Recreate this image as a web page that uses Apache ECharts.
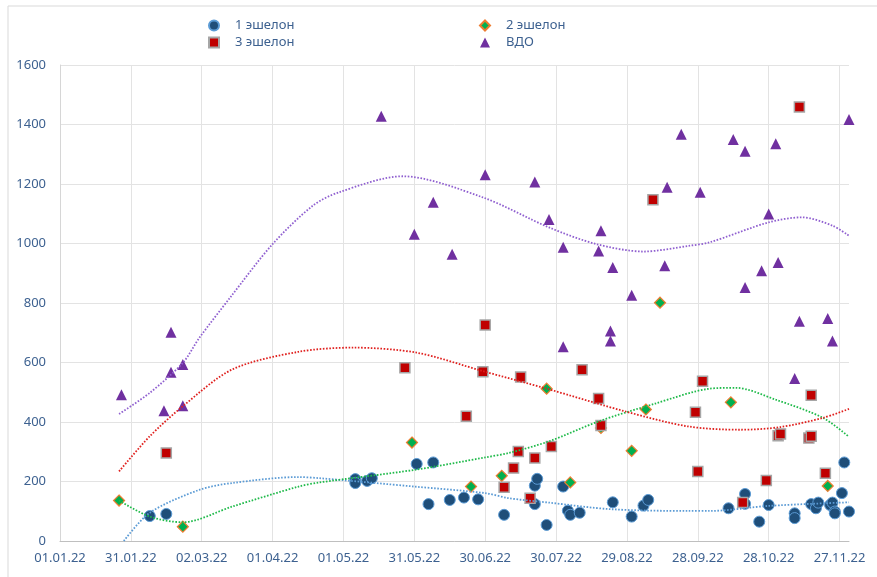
<!DOCTYPE html>
<html>
<head>
<meta charset="utf-8">
<script src="https://cdn.jsdelivr.net/npm/echarts@6/dist/echarts.min.js"></script>
<style>
html,body{margin:0;padding:0;background:#fff;}
#chart{width:877px;height:577px;}
</style>
</head>
<body>
<div id="chart"></div>
<script>
// ---- data ----
const ech1Dates = ['2022-02-08','2022-02-15','2022-05-06','2022-05-06','2022-05-11','2022-05-13','2022-06-01','2022-06-08','2022-06-06','2022-06-15','2022-06-21','2022-06-27','2022-07-08','2022-07-21','2022-07-21','2022-07-22','2022-07-26','2022-08-02','2022-08-04','2022-08-05','2022-08-09','2022-08-23','2022-08-31','2022-09-05','2022-09-07','2022-10-11','2022-10-18','2022-10-18','2022-10-24','2022-10-28','2022-11-08','2022-11-08','2022-11-15','2022-11-17','2022-11-18','2022-11-23','2022-11-24','2022-11-25','2022-11-25','2022-11-28','2022-11-29','2022-12-01'];
const ech1Values = [84,91,208,195,202,211,259,264,124,138,146,140,88,124,186,209,54,183,102,88,95,130,82,119,138,110,158,125,65,121,93,77,124,110,129,121,129,99,93,161,264,99];

const ech2Dates = ['2022-01-26','2022-02-22','2022-05-30','2022-06-24','2022-07-07','2022-07-26','2022-08-05','2022-08-18','2022-08-31','2022-09-06','2022-09-12','2022-10-12','2022-11-22'];
const ech2Values = [136,48,331,183,219,512,197,380,303,442,801,466,185];

const ech3Dates = ['2022-02-15','2022-05-27','2022-06-22','2022-06-29','2022-06-30','2022-07-08','2022-07-12','2022-07-14','2022-07-15','2022-07-19','2022-07-21','2022-07-28','2022-08-10','2022-08-17','2022-08-18','2022-09-09','2022-09-27','2022-09-28','2022-09-30','2022-10-17','2022-10-27','2022-11-01','2022-11-02','2022-11-10','2022-11-14','2022-11-15','2022-11-15','2022-11-21'];
const ech3Values = [296,582,419,569,726,181,245,301,551,144,279,318,576,479,388,1147,433,234,537,129,203,354,360,1459,346,352,490,228];

const vdoDates = ['2022-01-27','2022-02-14','2022-02-17','2022-02-17','2022-02-22','2022-02-22','2022-05-17','2022-05-31','2022-06-08','2022-06-16','2022-06-30','2022-07-21','2022-07-27','2022-08-02','2022-08-02','2022-08-17','2022-08-18','2022-08-22','2022-08-22','2022-08-23','2022-08-31','2022-09-14','2022-09-15','2022-09-21','2022-09-29','2022-10-13','2022-10-18','2022-10-18','2022-10-25','2022-10-28','2022-10-31','2022-11-01','2022-11-08','2022-11-10','2022-11-22','2022-11-24','2022-12-01'];
const vdoValues = [492,438,702,567,593,455,1428,1031,1139,964,1231,1207,1081,987,653,975,1043,706,672,919,826,925,1189,1367,1172,1350,1310,852,908,1099,1335,936,546,739,748,672,1417];

// trendlines
const trend1Dates = ['2022-01-28','2022-02-08','2022-03-01','2022-03-15','2022-04-12','2022-04-21','2022-05-31','2022-06-30','2022-07-10','2022-07-27','2022-08-22','2022-09-24','2022-10-03','2022-10-28','2022-12-01'];
const trend1Values = [0,95,172,195,215,211,183,161,144,129,107,101,101,118,130];
const trend2Dates = ['2022-01-26','2022-02-08','2022-02-22','2022-03-15','2022-04-12','2022-04-21','2022-05-31','2022-06-30','2022-07-10','2022-07-27','2022-08-17','2022-09-10','2022-10-03','2022-10-14','2022-10-31','2022-11-20','2022-12-01'];
const trend2Values = [136,82,63,116,183,197,239,281,296,335,402,462,512,515,475,414,350];
const trend3Dates = ['2022-01-26','2022-02-08','2022-02-22','2022-03-15','2022-04-12','2022-05-05','2022-06-01','2022-06-29','2022-07-26','2022-08-29','2022-09-24','2022-10-16','2022-11-02','2022-11-20','2022-12-01'];
const trend3Values = [234,352,453,577,636,650,633,571,512,434,385,374,383,414,444];
const trendVdoDates = ['2022-01-26','2022-02-08','2022-02-22','2022-03-01','2022-03-14','2022-04-01','2022-04-18','2022-04-29','2022-05-26','2022-06-29','2022-07-27','2022-08-16','2022-09-05','2022-09-24','2022-10-03','2022-10-28','2022-11-11','2022-11-24','2022-12-01'];
const trendVdoValues = [427,498,599,683,818,998,1127,1172,1226,1155,1054,998,973,992,1004,1071,1088,1060,1026];

const seriesNames = ['1 эшелон','2 эшелон','3 эшелон','ВДО'];
const yTicks = [0,200,400,600,800,1000,1200,1400,1600];

// ---- helpers ----
const BASE = Date.UTC(2022,0,1);
const DAY = 86400000;
const dayOf = s => (Date.UTC(+s.slice(0,4), +s.slice(5,7)-1, +s.slice(8,10)) - BASE) / DAY;
const pairs = (d, v) => d.map((s, i) => [dayOf(s), v[i]]);
const fmt = v => {
  const d = new Date(BASE + v * DAY);
  const p = n => String(n).padStart(2,'0');
  return p(d.getUTCDate()) + '.' + p(d.getUTCMonth()+1) + '.' + String(d.getUTCFullYear()).slice(2);
};

const textColor = '#3d6190';
const font = 'Noto Sans';

const trend = (d, v, color) => ({
  type: 'line', data: pairs(d, v), smooth: 0.3, symbol: 'none', z: 5,
  silent: true, legendHoverLink: false,
  lineStyle: { color: color, width: 1.8, type: [1.6, 1.6] }
});

const legendText = { color: textColor, fontSize: 13, fontFamily: font, padding: [0, 0, 0, 11] };

const chart = echarts.init(document.getElementById('chart'));
chart.setOption({
  animation: false,
  backgroundColor: '#fff',
  textStyle: { fontFamily: font },
  graphic: [{
    type: 'rect', shape: { x: 8, y: 6, width: 900, height: 600 },
    style: { fill: 'none', stroke: '#d9d9d9', lineWidth: 1 }, silent: true, z: -10
  }],
  legend: [{
    data: [seriesNames[0], seriesNames[2]],
    orient: 'vertical', left: 203, top: 14, itemWidth: 10, itemHeight: 10, itemGap: 4,
    textStyle: legendText
  }, {
    data: [seriesNames[1], seriesNames[3]],
    orient: 'vertical', left: 474, top: 14, itemWidth: 10, itemHeight: 10, itemGap: 4,
    textStyle: legendText
  }],
  grid: { left: 60, right: 28, top: 65, bottom: 36, containLabel: false },
  xAxis: {
    type: 'value', min: 0, max: dayOf('2022-12-01'), interval: 30,
    axisLine: { show: true, lineStyle: { color: '#bfbfbf' } },
    axisTick: { show: false },
    splitLine: { show: true, showMinLine: true, showMaxLine: false, lineStyle: { color: '#e3e3e3' } },
    axisLabel: { color: textColor, fontSize: 13, margin: 11, showMaxLabel: false,
      formatter: v => (v % 30 === 0 ? fmt(v) : '') }
  },
  yAxis: {
    type: 'value', min: yTicks[0], max: yTicks[yTicks.length-1], interval: 200,
    axisLine: { show: true, lineStyle: { color: '#d6d6d6' } },
    axisTick: { show: false },
    splitLine: { show: true, lineStyle: { color: '#e3e3e3' } },
    axisLabel: { color: textColor, fontSize: 13, margin: 14, formatter: v => String(v) }
  },
  series: [
    { name: seriesNames[0], type: 'scatter', data: pairs(ech1Dates, ech1Values),
      symbol: 'circle', symbolSize: 11, z: 2,
      itemStyle: { color: '#1f4e79', borderColor: '#5b9bd5', borderWidth: 1, opacity: 1 } },
    { name: seriesNames[1], type: 'scatter', data: pairs(ech2Dates, ech2Values),
      symbol: 'diamond', symbolSize: 11, z: 2,
      itemStyle: { color: '#00b050', borderColor: '#ed7d31', borderWidth: 1.2, opacity: 1 } },
    { name: seriesNames[2], type: 'scatter', data: pairs(ech3Dates, ech3Values),
      symbol: 'rect', symbolSize: 10, z: 2,
      itemStyle: { color: '#c00000', borderColor: '#a6a6a6', borderWidth: 1.5, opacity: 1 } },
    { name: seriesNames[3], type: 'scatter', data: pairs(vdoDates, vdoValues),
      symbol: 'triangle', symbolSize: 11, z: 2,
      itemStyle: { color: '#7030a0', opacity: 1 } },
    trend(trend1Dates, trend1Values, '#5b9bd5'),
    trend(trend2Dates, trend2Values, '#1fba4a'),
    trend(trend3Dates, trend3Values, '#e0201e'),
    trend(trendVdoDates, trendVdoValues, '#9060d0')
  ]
});
</script>
</body>
</html>
